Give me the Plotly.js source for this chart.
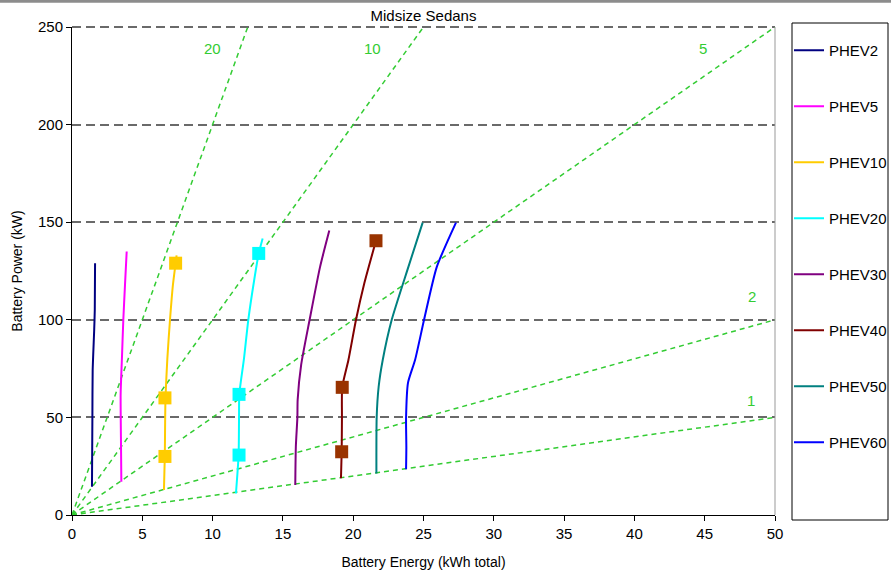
<!DOCTYPE html>
<html>
<head>
<meta charset="utf-8">
<script src="https://cdn.plot.ly/plotly-3.0.1.min.js"></script>
<style>html,body{margin:0;padding:0;background:#fff;overflow:hidden;width:891px;height:574px;}#chart{width:891px;height:574px;overflow:hidden;}</style>
</head>
<body>
<div id="chart"></div>
<script>
// ---- data ----
const seriesNames = ["PHEV2","PHEV5","PHEV10","PHEV20","PHEV30","PHEV40","PHEV50","PHEV60"];
const seriesColors = ["#000080","#ff00ff","#ffcc00","#00ffff","#800080","#800000","#008080","#0000ff"];

const phev2Energy  = [1.42, 1.45, 1.47, 1.58, 1.62, 1.64];
const phev2Power   = [14.5, 50, 74, 95, 105, 129];
const phev5Energy  = [3.51, 3.48, 3.46, 3.55, 3.65, 3.77, 3.89];
const phev5Power   = [17, 40, 62, 80, 100, 118, 135];
const phev10Energy = [6.54, 6.60, 6.62, 6.65, 6.78, 6.97, 7.18, 7.37, 7.44];
const phev10Power  = [12.8, 30, 45, 60, 80, 100, 118, 129, 133];
const phev20Energy = [11.66, 11.85, 11.88, 11.90, 12.23, 12.54, 12.95, 13.28, 13.56];
const phev20Power  = [11, 30.7, 50, 61.8, 80, 100, 120, 134, 141.7];
const phev30Energy = [15.88, 15.92, 16.03, 16.05, 16.3, 16.9, 17.64, 18.3];
const phev30Power  = [15.4, 35, 50, 59, 77, 100, 127, 145.7];
const phev40Energy = [19.13, 19.18, 19.20, 19.22, 19.66, 20.2, 20.79, 21.62];
const phev40Power  = [18.8, 32.4, 50, 65.4, 79.4, 100, 118.7, 140.5];
const phev50Energy = [21.65, 21.67, 21.81, 22.1, 22.74, 23.92, 24.94];
const phev50Power  = [21.3, 50, 65.7, 79.4, 100, 127, 149.8];
const phev60Energy = [23.76, 23.78, 23.76, 23.9, 24.4, 25.04, 25.94, 27.31];
const phev60Power  = [23.4, 34.6, 50, 67.8, 79.4, 100, 127, 149.8];

// square markers on three series
const phev10MarkEnergy = [6.61, 6.61, 7.37];
const phev10MarkPower  = [30, 60, 129];
const phev20MarkEnergy = [11.88, 11.88, 13.28];
const phev20MarkPower  = [30.7, 61.8, 134];
const phev40MarkEnergy = [19.18, 19.22, 21.62];
const phev40MarkPower  = [32.4, 65.4, 140.5];

// power-to-energy ratio reference lines
const ratios = [20, 10, 5, 2, 1];
const ratioLabels = ["20", "10", "5", "2", "1"];

const xTickVals = [0,5,10,15,20,25,30,35,40,45,50];
const yTickVals = [0,50,100,150,200,250];

// ---- build ----
const FONT = "Liberation Sans, Arial, sans-serif";
const xMax = 50, yMax = 250;
const green = "#33cc33";

const traces = [];
ratios.forEach(r => {
  const xe = Math.min(xMax, yMax / r);
  traces.push({x: [0, xe], y: [0, r * xe], mode: "lines", type: "scatter",
    line: {color: green, width: 1.5, dash: "5px,4px"}, showlegend: false, hoverinfo: "skip"});
});

const energies = [phev2Energy, phev5Energy, phev10Energy, phev20Energy, phev30Energy, phev40Energy, phev50Energy, phev60Energy];
const powers = [phev2Power, phev5Power, phev10Power, phev20Power, phev30Power, phev40Power, phev50Power, phev60Power];
seriesNames.forEach((n, i) => {
  traces.push({x: energies[i], y: powers[i], name: n, mode: "lines", type: "scatter",
    legendgroup: n, line: {color: seriesColors[i], width: 2, shape: "spline", smoothing: 0.6}});
});

const marks = [
  [phev10MarkEnergy, phev10MarkPower, "#ffcc00"],
  [phev20MarkEnergy, phev20MarkPower, "#00ffff"],
  [phev40MarkEnergy, phev40MarkPower, "#993300"]
];
marks.forEach(m => {
  traces.push({x: m[0], y: m[1], mode: "markers", type: "scatter", showlegend: false,
    marker: {symbol: "square", size: 13, color: m[2], line: {width: 0}}});
});

// label anchors (layout)
const labelPos = [[9.96, 239.2], [21.34, 239.2], [44.88, 239.2], [48.33, 111.9], [48.29, 58.6]];
const annotations = ratioLabels.map((t, i) => ({
  x: labelPos[i][0], y: labelPos[i][1], xref: "x", yref: "y", text: t, showarrow: false,
  font: {family: FONT, size: 15, color: green}, xanchor: "center", yanchor: "middle"
}));

const pw = 703, ph = 488;
const shapes = [
  // top gridline at range edge
  {type: "line", xref: "paper", yref: "paper", x0: 0, x1: 1, y0: 1, y1: 1, layer: "below",
    line: {color: "#6a6a6a", width: 2, dash: "9px,5px"}},
  // right plot border
  {type: "line", xref: "paper", yref: "paper", x0: 1, x1: 1, y0: 0, y1: 1, line: {color: "#999999", width: 1}},
  // legend box
  {type: "rect", xref: "paper", yref: "paper", x0: (792 - 72) / pw, x1: (888 - 72) / pw,
    y0: (515 - 520) / ph, y1: (515 - 23) / ph, line: {color: "#000000", width: 1}},
  // top chart border bar
  {type: "rect", xref: "paper", yref: "paper", x0: -72 / pw, x1: (891 - 72) / pw,
    y0: (515 - 2.7) / ph, y1: 515 / ph + 0.01, line: {width: 0}, fillcolor: "#8c8c8c"}
];

const layout = {
  width: 891, height: 574,
  margin: {l: 72, r: 116, t: 27, b: 59, pad: 0},
  paper_bgcolor: "#ffffff", plot_bgcolor: "#ffffff",
  font: {family: FONT, size: 15, color: "#000000"},
  title: {text: "Midsize Sedans", font: {family: FONT, size: 15, color: "#000"},
    xref: "paper", x: 0.5, xanchor: "center", yref: "container", y: 1 - 16 / 574, yanchor: "middle"},
  xaxis: {range: [0, xMax], tickvals: xTickVals, showgrid: false, zeroline: false,
    showline: true, linecolor: "#000", linewidth: 1, ticks: "outside", ticklen: 5, tickcolor: "#000",
    tickfont: {family: FONT, size: 15, color: "#000"},
    title: {text: "Battery Energy (kWh total)", font: {family: FONT, size: 14, color: "#000"}, standoff: 16},
    automargin: false, fixedrange: true},
  yaxis: {range: [0, yMax], tickvals: yTickVals, showgrid: true, gridcolor: "#6a6a6a", gridwidth: 2,
    griddash: "9px,5px", zeroline: false,
    showline: true, linecolor: "#000", linewidth: 1, ticks: "outside", ticklen: 5, tickcolor: "#000",
    tickfont: {family: FONT, size: 15, color: "#000"},
    title: {text: "Battery Power (kW)", font: {family: FONT, size: 14, color: "#000"}, standoff: 12},
    automargin: false, fixedrange: true},
  legend: {xref: "container", x: 789 / 891, xanchor: "left",
    yref: "container", y: 1 - 34 / 574, yanchor: "top", maxheight: 520,
    bgcolor: "rgba(0,0,0,0)", borderwidth: 0, traceorder: "grouped", tracegroupgap: 33.5,
    itemwidth: 30, font: {family: FONT, size: 15, color: "#000"}},
  annotations: annotations,
  shapes: shapes,
  showlegend: true
};

Plotly.newPlot("chart", traces, layout, {staticPlot: true, displayModeBar: false});
</script>
</body>
</html>
